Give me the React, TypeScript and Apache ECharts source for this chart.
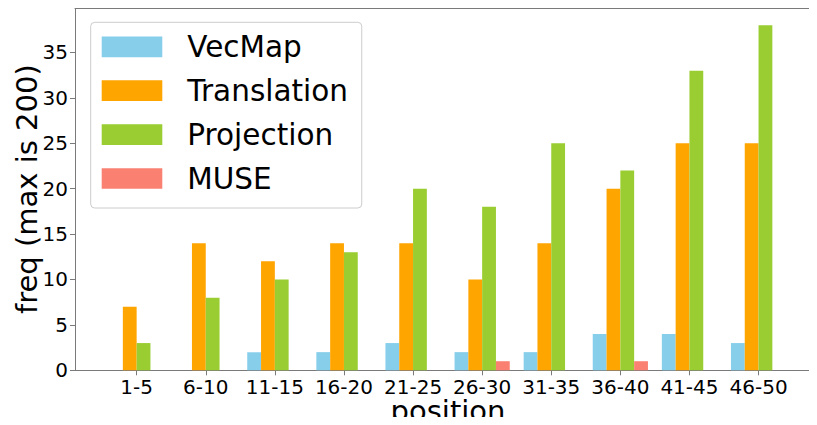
import React, { useEffect, useRef } from "react";
import * as echarts from "echarts";

const categories = ["1-5", "6-10", "11-15", "16-20", "21-25", "26-30", "31-35", "36-40", "41-45", "46-50"];
const vecMap = [0, 0, 2, 2, 3, 2, 2, 4, 4, 3];
const translation = [7, 14, 12, 14, 14, 10, 14, 20, 25, 25];
const projection = [3, 8, 10, 13, 20, 18, 25, 22, 33, 38];
const muse = [0, 0, 0, 0, 0, 1, 0, 1, 0, 0];
const yTicks = { min: 0, max: 39.9, interval: 5 };

const FONT = "DejaVu Sans";
const SPINE = "#7a7a7a";

export default function App() {
  const ref = useRef<HTMLDivElement>(null);
  useEffect(() => {
    if (!ref.current) return;
    const chart = echarts.init(ref.current, null, { renderer: "svg" });
    const mk = (name: string, data: number[], color: string) => ({
      name,
      type: "bar",
      xAxisIndex: 2,
      yAxisIndex: 1,
      data,
      barWidth: 13.8,
      barGap: "0%",
      itemStyle: { color },
      emphasis: { disabled: true },
    });
    chart.setOption({
      animation: false,
      textStyle: { fontFamily: FONT },
      grid: [
        { left: 75, top: 8, width: 746, height: 362.3, containLabel: false, outerBoundsMode: "none" },
        { left: 102.1, top: 8, width: 691, height: 362.3, containLabel: false, outerBoundsMode: "none" },
      ],
      legend: {
        orient: "vertical",
        left: 90.7,
        top: 22.3,
        padding: [9.5, 13.7, 14.5, 11],
        itemWidth: 60.6,
        itemHeight: 20.7,
        itemGap: 13.9,
        icon: "rect",
        backgroundColor: "rgba(255,255,255,0.8)",
        borderColor: "#cccccc",
        borderWidth: 1,
        borderRadius: 4,
        textStyle: { fontFamily: FONT, fontSize: 29.5, lineHeight: 29, color: "#000", padding: [0, 0, 0, 20] },
        data: ["VecMap", "Translation", "Projection", "MUSE"],
      },
      xAxis: [
        {
          type: "value",
          gridIndex: 0,
          min: 0,
          max: 1,
          position: "bottom",
          name: "position",
          nameLocation: "middle",
          nameGap: 26,
          nameMoveOverlap: false,
          nameTextStyle: { fontFamily: FONT, fontSize: 29, color: "#000" },
          axisLine: { show: true, lineStyle: { color: SPINE, width: 1 } },
          axisTick: { show: false },
          axisLabel: { show: false },
          splitLine: { show: false },
        },
        {
          type: "value",
          gridIndex: 0,
          min: 0,
          max: 1,
          position: "top",
          axisLine: { show: true, lineStyle: { color: SPINE, width: 1 } },
          axisTick: { show: false },
          axisLabel: { show: false },
          splitLine: { show: false },
        },
        {
          type: "category",
          gridIndex: 1,
          data: categories,
          position: "bottom",
          axisLine: { show: false },
          axisTick: { show: true, alignWithLabel: true, interval: 0, length: 5, lineStyle: { color: SPINE } },
          axisLabel: { fontFamily: FONT, fontSize: 20, color: "#000", margin: 7, interval: 0 },
          splitLine: { show: false },
        },
      ],
      yAxis: [
        {
          type: "value",
          gridIndex: 0,
          min: yTicks.min,
          max: yTicks.max,
          interval: yTicks.interval,
          name: "freq (max is 200)",
          nameLocation: "middle",
          nameGap: 34,
          nameMoveOverlap: false,
          nameTextStyle: { fontFamily: FONT, fontSize: 29, color: "#000" },
          axisLine: { show: true, lineStyle: { color: SPINE, width: 1 } },
          axisTick: { show: true, length: 5, lineStyle: { color: SPINE } },
          axisLabel: { fontFamily: FONT, fontSize: 20, color: "#000", margin: 7, showMaxLabel: false },
          splitLine: { show: false },
        },
        {
          type: "value",
          gridIndex: 1,
          min: yTicks.min,
          max: yTicks.max,
          show: false,
          splitLine: { show: false },
        },
      ],
      series: [
        mk("VecMap", vecMap, "#87CEEB"),
        mk("Translation", translation, "#FFA500"),
        mk("Projection", projection, "#9ACD32"),
        mk("MUSE", muse, "#FA8072"),
      ],
    });
    return () => chart.dispose();
  }, []);
  return <div ref={ref} style={{ width: 817, height: 425, margin: -8 }} />;
}
